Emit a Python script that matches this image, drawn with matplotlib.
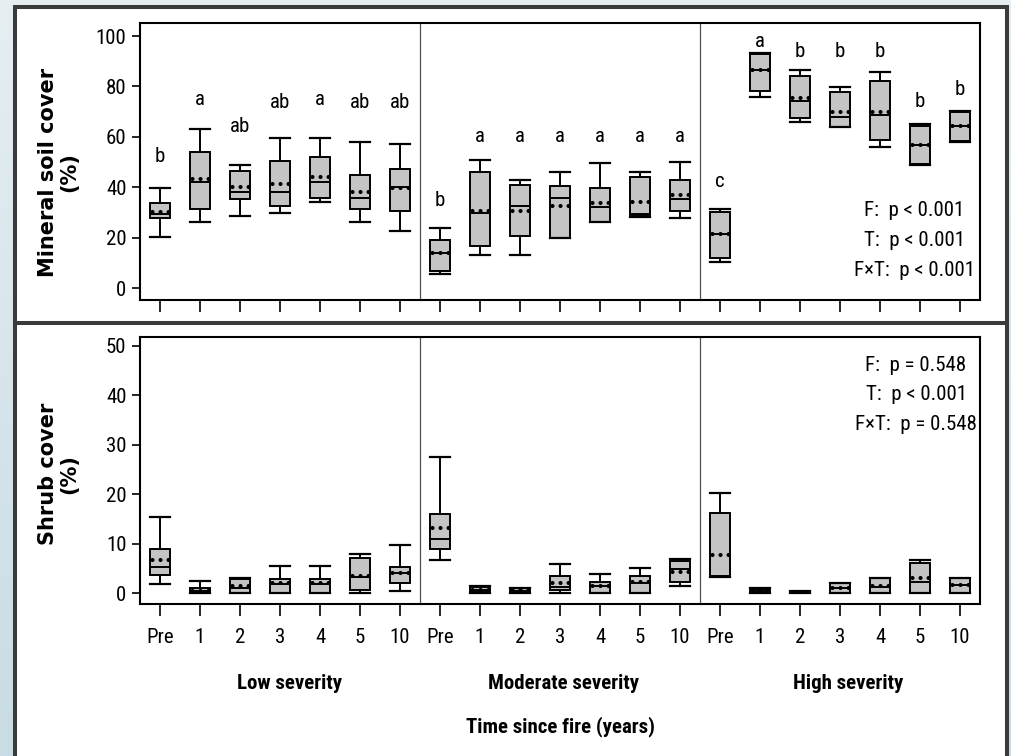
import numpy as np
import matplotlib
matplotlib.use("Agg")
from matplotlib import pyplot as plt
import matplotlib.font_manager as fm
from matplotlib.patches import Rectangle
from matplotlib.lines import Line2D

# --- data ---
severities = ["Low severity", "Moderate severity", "High severity"]
times = ["Pre", "1", "2", "3", "4", "5", "10"]

# mineral soil cover (%), 7 boxes per severity: low, moderate, high
soil_whishi = [39.6, 63.0, 48.8, 59.4, 59.4, 58.1, 57.0,
               23.9, 50.8, 42.9, 45.9, 49.5, 45.9, 50.1,
               31.3, 93.4, 86.5, 79.6, 85.6, 65.1, 70.4]
soil_q3 = [33.6, 54.1, 46.6, 50.5, 52.1, 44.8, 47.2,
           19.0, 45.9, 40.9, 40.6, 39.6, 43.9, 42.9,
           30.3, 93.0, 84.1, 77.6, 82.1, 64.3, 70.0]
soil_med = [29.2, 42.2, 38.2, 38.2, 42.2, 35.8, 40.2,
            13.8, 29.6, 32.7, 35.6, 32.0, 29.3, 35.3,
            21.3, 86.5, 74.2, 67.7, 68.7, 56.7, 64.3]
soil_mean = [30.3, 43.1, 40.0, 41.1, 44.2, 38.2, 39.6,
             13.8, 30.7, 30.7, 32.7, 33.9, 34.2, 36.9,
             21.3, 86.5, 75.3, 70.0, 70.0, 56.7, 64.3]
soil_q1 = [27.9, 31.3, 35.2, 32.7, 35.6, 31.3, 30.7,
           6.9, 16.7, 20.6, 20.0, 26.1, 29.0, 30.7,
           11.8, 78.3, 67.3, 64.0, 58.7, 49.1, 58.3]
soil_whislo = [20.1, 26.3, 28.6, 29.6, 34.0, 26.3, 22.7,
               5.6, 13.1, 13.1, 20.0, 26.1, 28.3, 27.7,
               10.2, 75.9, 65.7, 64.0, 56.1, 48.8, 57.9]
soil_letters = ["b", "a", "ab", "ab", "a", "ab", "ab",
                "b", "a", "a", "a", "a", "a", "a",
                "c", "a", "b", "b", "b", "b", "b"]
soil_letter_y = [50.1, 72.6, 62.0, 71.3, 72.6, 71.3, 71.3,
                 32.7, 58.1, 58.1, 58.1, 58.1, 58.1, 58.1,
                 40.2, 95.5, 91.8, 91.8, 91.8, 71.7, 76.6]

# shrub cover (%)
shrub_whishi = [15.4, 2.4, 3.0, 5.5, 5.5, 7.9, 9.7,
                27.6, 1.4, 1.1, 5.9, 3.8, 5.0, 7.0,
                20.3, 1.0, 0.5, 2.1, 3.1, 6.7, 3.1]
shrub_q3 = [8.9, 1.0, 2.8, 2.8, 2.8, 7.2, 5.3,
            16.1, 1.2, 1.0, 3.5, 2.2, 3.5, 6.5,
            16.3, 0.9, 0.45, 2.0, 3.0, 6.0, 3.0]
shrub_med = [5.3, 0.5, 1.0, 1.8, 1.8, 3.3, 4.0,
             10.9, 0.6, 0.5, 1.2, 1.4, 2.1, 4.8,
             3.4, 0.4, 0.2, 1.0, 1.3, 2.3, 1.6]
shrub_mean = [6.7, 0.5, 1.4, 2.0, 2.0, 3.5, 4.1,
              13.1, 0.7, 0.6, 2.1, 1.4, 2.2, 4.3,
              7.7, 0.4, 0.2, 1.0, 1.4, 3.0, 1.7]
shrub_q1 = [3.6, 0.0, 0.0, 0.0, 0.0, 0.7, 2.0,
            9.0, 0.2, 0.1, 0.6, 0.0, 0.0, 2.3,
            3.3, 0.0, 0.0, 0.0, 0.0, 0.0, 0.0]
shrub_whislo = [1.8, 0.0, 0.0, 0.0, 0.0, 0.1, 0.4,
                6.8, 0.0, 0.0, 0.0, 0.0, 0.0, 1.5,
                3.2, 0.0, 0.0, 0.0, 0.0, 0.0, 0.0]

soil_stats_txt = "F:  p < 0.001\nT:  p < 0.001\nF×T:  p < 0.001"
shrub_stats_txt = "F:  p = 0.548\nT:  p < 0.001\nF×T:  p = 0.548"

# --- fonts: narrow face for ticks and labels ---
names = {f.name for f in fm.fontManager.ttflist}
NARROW, FS = "Liberation Sans", 14
for cand in ["Liberation Sans Narrow", "Arial Narrow", "Roboto Condensed"]:
    if cand in names:
        NARROW, FS = cand, 15
        break
plt.rcParams["font.family"] = [NARROW, "DejaVu Sans"]

W, H = 1011, 756
fig = plt.figure(figsize=(W / 100, H / 100), dpi=100)


def fx(px):
    return px / W


def fy(py):
    return 1 - py / H


# background gradient + white framed panel
bg = fig.add_axes([0, 0, 1, 1], zorder=-10)
grad = np.linspace(0, 1, 256)[:, None]
c0 = np.array([0xe6, 0xee, 0xf2]) / 255
c1 = np.array([0xc8, 0xdc, 0xe4]) / 255
img = c0 + (c1 - c0) * grad[:, :, None]
bg.imshow(img, aspect="auto", extent=[0, 1, 0, 1], origin="upper")
bg.set_axis_off()

fig.add_artist(Rectangle((fx(15), fy(765)), fx(1007) - fx(15), fy(7) - fy(765),
                         transform=fig.transFigure, facecolor="white",
                         edgecolor="#3a3a3a", linewidth=2.9, zorder=-5))
fig.add_artist(Line2D([fx(15), fx(1007)], [fy(323), fy(323)],
                      transform=fig.transFigure, color="#3a3a3a", linewidth=2.9))

ax1 = fig.add_axes([fx(140), fy(300), 840 / W, 277 / H])
ax2 = fig.add_axes([fx(140), fy(604), 840 / W, 267 / H])

positions = np.arange(21)


def draw_boxes(ax, lo, q1, med, mean, q3, hi):
    stats = []
    for i in range(len(med)):
        stats.append(dict(whislo=lo[i], q1=q1[i], med=med[i], mean=mean[i],
                          q3=q3[i], whishi=hi[i], fliers=[]))
    ax.bxp(stats, positions=positions, widths=0.52, capwidths=0.5,
           patch_artist=True, showmeans=True, meanline=True, showfliers=False,
           boxprops=dict(facecolor="#c4c4c4", edgecolor="black", linewidth=1.4),
           medianprops=dict(color="black", linewidth=1.4),
           whiskerprops=dict(color="black", linewidth=1.4),
           capprops=dict(color="black", linewidth=1.6),
           meanprops=dict(color="black", linewidth=3.0,
                          linestyle=(1.34, (0.01, 1.92)), dash_capstyle="round"))


draw_boxes(ax1, soil_whislo, soil_q1, soil_med, soil_mean, soil_q3, soil_whishi)
draw_boxes(ax2, shrub_whislo, shrub_q1, shrub_med, shrub_mean, shrub_q3, shrub_whishi)

for ax in (ax1, ax2):
    ax.set_xlim(-0.5, 20.5)
    for xd in (6.5, 13.5):
        ax.axvline(xd, color="#505050", linewidth=0.9)
    for s in ax.spines.values():
        s.set_linewidth(1.5)
    ax.set_xticks(positions)
    ax.tick_params(axis="x", length=8.6, width=1.2, pad=9, labelsize=FS)
    ax.tick_params(axis="y", length=5.8, width=1.2, pad=4, labelsize=FS)

ax1.set_ylim(-4.76, 105.16)
ax1.set_yticks([0, 20, 40, 60, 80, 100])
ax1.set_xticklabels([])
ax2.set_ylim(-2.2, 51.8)
ax2.set_yticks([0, 10, 20, 30, 40, 50])
ax2.set_xticklabels(times * 3)

for i, (lab, yv) in enumerate(zip(soil_letters, soil_letter_y)):
    ax1.text(positions[i], yv, lab, ha="center", va="baseline", fontsize=FS)

ax1.text(18.85, 19.0, soil_stats_txt, ha="center", va="center",
         multialignment="center", linespacing=1.74, fontsize=FS)
ax2.text(18.9, 40.1, shrub_stats_txt, ha="center", va="center",
         multialignment="center", linespacing=1.7, fontsize=FS)

# group labels and common x label
xt = ax2.get_xaxis_transform()
for xg, name in zip([3.23, 10.1, 17.2], severities):
    ax2.text(xg, -0.296, name, transform=xt, ha="center", va="center",
             fontsize=FS, fontweight="bold")
ax2.text(10.0, -0.46, "Time since fire (years)", transform=xt, ha="center",
         va="center", fontsize=FS, fontweight="bold")

# y labels (wide bold face)
fig.text(fx(58.5), fy(172), "Mineral soil cover\n(%)", rotation=90, ha="center",
         va="center", multialignment="center", fontsize=15, fontweight="bold",
         family="DejaVu Sans", linespacing=1.05)
fig.text(fx(58.5), fy(474), "Shrub cover\n(%)", rotation=90, ha="center",
         va="center", multialignment="center", fontsize=15, fontweight="bold",
         family="DejaVu Sans", linespacing=1.05)

fig.savefig("out.png", dpi=100)
